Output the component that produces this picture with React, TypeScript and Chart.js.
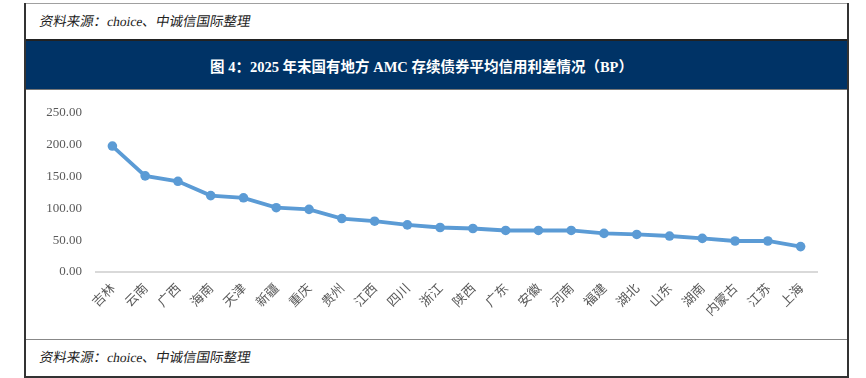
import React, { useEffect, useRef } from "react";
import { Chart, registerables } from "chart.js";

Chart.register(...registerables);

const categories = [
  "吉林", "云南", "广西", "海南", "天津", "新疆", "重庆", "贵州", "江西", "四川", "浙江",
  "陕西", "广东", "安徽", "河南", "福建", "湖北", "山东", "湖南", "内蒙古", "江苏", "上海",
];
const spreadValues = [
  197.8, 151.0, 142.4, 120.0, 116.5, 101.0, 98.4, 83.9, 79.8, 74.0, 69.9,
  68.3, 65.2, 65.2, 65.2, 60.6, 59.0, 56.5, 52.8, 48.7, 48.7, 39.9,
];
const yTicks = [0, 50, 100, 150, 200, 250];

const titleText = "图 4：2025 年末国有地方 AMC 存续债券平均信用利差情况（BP）";
const sourceText = "资料来源：choice、中诚信国际整理";

const serifCjk = '"Liberation Serif", "Noto Sans CJK SC", serif';

export default function App() {
  const canvasRef = useRef<HTMLCanvasElement | null>(null);

  useEffect(() => {
    const canvas = canvasRef.current;
    if (!canvas) return;
    const chart = new Chart(canvas, {
      type: "line",
      data: {
        labels: categories,
        datasets: [
          {
            data: spreadValues,
            borderColor: "#5b9bd5",
            backgroundColor: "#5b9bd5",
            borderWidth: 3.8,
            pointRadius: 4.8,
            pointBackgroundColor: "#5b9bd5",
            pointBorderWidth: 0,
            tension: 0,
          },
        ],
      },
      options: {
        animation: false,
        responsive: false,
        maintainAspectRatio: false,
        layout: { padding: { left: 0, right: 30, top: 20, bottom: 0 } },
        plugins: { legend: { display: false }, tooltip: { enabled: false } },
        scales: {
          x: {
            offset: true,
            grid: { display: true, color: "rgba(0,0,0,0)", drawTicks: false },
            border: { display: true, color: "#d9d9d9", width: 2 },
            ticks: {
              autoSkip: false,
              minRotation: 45,
              maxRotation: 45,
              padding: 8,
              color: "#595959",
              font: { family: '"Noto Sans CJK SC", sans-serif', size: 13 },
            },
            afterFit: (s: any) => {
              s.height = 66;
            },
          },
          y: {
            min: 0,
            max: 250,
            afterBuildTicks: (s: any) => {
              s.ticks = yTicks.map((v) => ({ value: v }));
            },
            grid: { display: false, drawTicks: false },
            border: { display: false },
            ticks: {
              padding: 14,
              color: "#595959",
              font: { family: '"Liberation Serif", serif', size: 13 },
              callback: (v: any) => Number(v).toFixed(2),
            },
            afterFit: (s: any) => {
              s.width = 70;
            },
          },
        },
      },
    });
    return () => chart.destroy();
  }, []);

  const abs = (o: React.CSSProperties): React.CSSProperties => ({ position: "absolute", ...o });

  const sourceStyle = (top: number): React.CSSProperties =>
    abs({
      left: 38,
      top,
      height: 20,
      lineHeight: "20px",
      fontSize: 13.5,
      color: "#222",
      fontFamily: serifCjk,
      whiteSpace: "nowrap",
      transform: "skewX(-10deg)",
      transformOrigin: "left bottom",
    });

  return (
    <div style={abs({ left: 0, top: 0, width: 866, height: 378, background: "#fff" })}>
      {/* frame lines */}
      <div style={abs({ left: 24, top: 3, width: 825, height: 1, background: "#a0a0a0" })} />
      <div style={abs({ left: 24, top: 3, width: 2, height: 375, background: "#333" })} />
      <div style={abs({ left: 847, top: 3, width: 2, height: 375, background: "#333" })} />
      {/* top source */}
      <div style={sourceStyle(12)}>{sourceText}</div>
      {/* blue header */}
      <div style={abs({ left: 26, top: 39, width: 821, height: 2, background: "#222" })} />
      <div
        style={abs({
          left: 26,
          top: 41,
          width: 821,
          height: 48,
          background: "#003366",
          color: "#fff",
          display: "flex",
          alignItems: "center",
          justifyContent: "center",
          fontFamily: serifCjk,
          fontWeight: "bold",
          fontSize: 14.5,
          whiteSpace: "nowrap",
          paddingRight: 30,
          boxSizing: "border-box",
        })}
      >
        {titleText}
      </div>
      <div style={abs({ left: 26, top: 89, width: 821, height: 1, background: "#777" })} />
      {/* chart */}
      <div style={abs({ left: 26, top: 91, width: 821, height: 247 })}>
        <canvas ref={canvasRef} width={821} height={247} style={{ width: 821, height: 247, display: "block" }} />
      </div>
      {/* bottom separator */}
      <div style={abs({ left: 26, top: 339, width: 821, height: 1, background: "#888" })} />
      <div style={sourceStyle(348)}>{sourceText}</div>
      <div style={abs({ left: 24, top: 376, width: 825, height: 2, background: "#333" })} />
    </div>
  );
}
